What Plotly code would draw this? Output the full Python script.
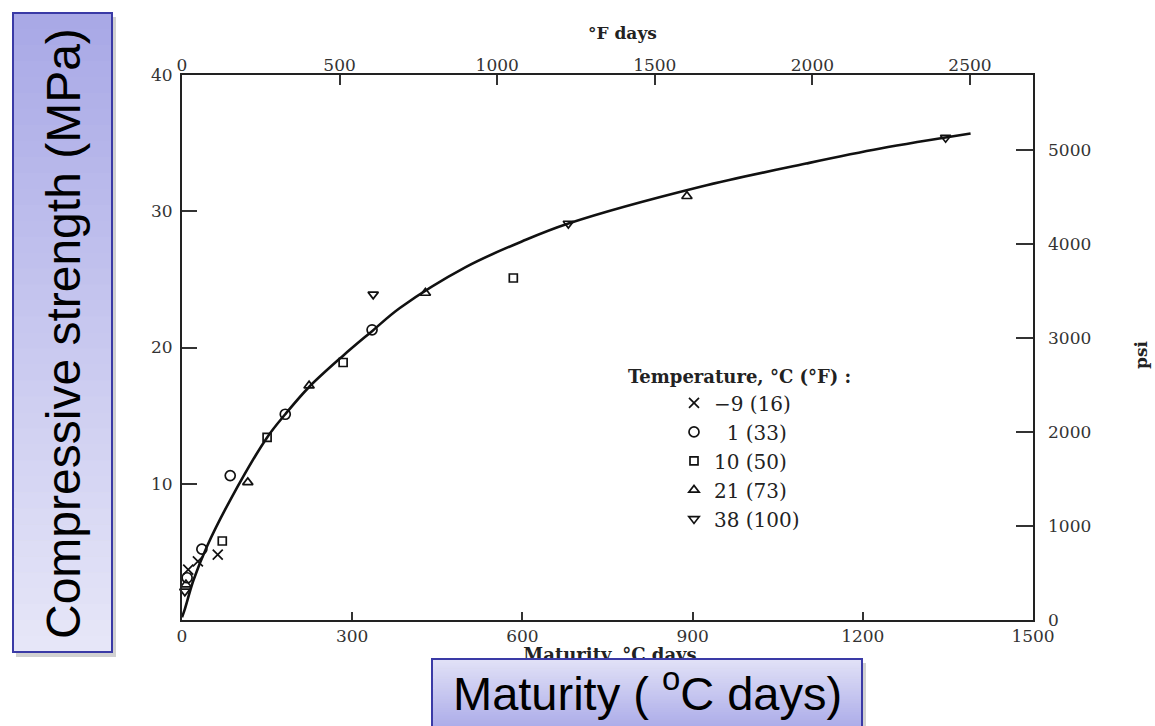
import plotly.graph_objects as go

# ---------------- data ----------------
# fitted strength-maturity curve (°C days, MPa)
curve_M = [0, 5, 20, 44, 85, 150, 182, 224, 284, 335, 384, 500, 600, 681, 914, 1100, 1231, 1390]
curve_S = [0.2, 0.8, 2.9, 5.4, 8.8, 13.4, 15.1, 17.1, 19.4, 21.2, 22.9, 25.9, 27.8, 29.1, 31.8, 33.5, 34.6, 35.7]

series_names = ["\u22129 (16)", "\u20071 (33)", "10 (50)", "21 (73)", "38 (100)"]
m_minus9 = [11, 28, 63]
s_minus9 = [3.7, 4.3, 4.8]
m_1 = [9, 35, 85, 182, 335]
s_1 = [3.1, 5.2, 10.6, 15.1, 21.3]
m_10 = [71, 150, 284, 584]
s_10 = [5.8, 13.4, 18.9, 25.1]
m_21 = [7, 116, 224, 429, 890]
s_21 = [2.6, 10.1, 17.2, 24.0, 31.1]
m_38 = [5, 337, 681, 1346]
s_38 = [2.1, 23.9, 29.1, 35.4]

x_ticks_C = [0, 300, 600, 900, 1200, 1500]
x_ticks_F = [0, 500, 1000, 1500, 2000, 2500]
y_ticks_MPa = [10, 20, 30, 40]
y_ticks_psi = [0, 1000, 2000, 3000, 4000, 5000]

X_RANGE = [0, 1500]
Y_RANGE = [0, 40]
F_PER_C = 1.8
PSI_PER_MPA = 145.038

# ---------------- layout helpers (pixel -> paper, paper = whole figure) ----------------
W, H = 1155, 726
L, R, T, B = 182, 1033, 75, 620


def px2x(px):
    return px / W


def py2y(py):
    return 1 - py / H


SERIF = "DejaVu Serif"
SANS = "Liberation Sans"
INK = "#222222"

fig = go.Figure()

# original x-axis title of the scanned figure (mostly covered by the blue box);
# drawn in a hidden helper subplot below the chart so the box shape covers it
fig.add_trace(go.Scatter(
    x=[610], y=[657], xaxis="x3", yaxis="y3",
    mode="text", text=["<b>Maturity, \u00b0C days</b>"],
    textfont=dict(family=SERIF, size=18, color=INK), cliponaxis=False,
    showlegend=False, hoverinfo="skip"))

fig.add_trace(go.Scatter(
    x=curve_M, y=curve_S, mode="lines",
    line=dict(color="#111111", width=2.6, shape="spline", smoothing=1.0),
    showlegend=False, hoverinfo="skip"))

marker_sets = [
    (m_minus9, s_minus9, "x-thin-open", 10),
    (m_1, s_1, "circle-open", 10),
    (m_10, s_10, "square-open", 8),
    (m_21, s_21, "triangle-up-open", 9),
    (m_38, s_38, "triangle-down-open", 9),
]
for name, (mx, my, sym, sz) in zip(series_names, marker_sets):
    fig.add_trace(go.Scatter(
        x=mx, y=my, mode="markers", name=name,
        marker=dict(symbol=sym, size=sz, color="#111111",
                    line=dict(color="#111111", width=1.7)),
        cliponaxis=False))

# invisible traces to activate the secondary axes
fig.add_trace(go.Scatter(x=[None], y=[None], xaxis="x2", yaxis="y", showlegend=False))
fig.add_trace(go.Scatter(x=[None], y=[None], xaxis="x", yaxis="y2", showlegend=False))

axis_font = dict(family=SERIF, size=17, color="#333333")
xdom = [px2x(L), px2x(R)]
ydom = [py2y(B), py2y(T)]

fig.update_layout(
    width=W, height=H,
    margin=dict(l=0, r=0, t=0, b=0, pad=0),
    paper_bgcolor="white", plot_bgcolor="white",
    xaxis=dict(domain=xdom, range=X_RANGE, tickvals=x_ticks_C, ticktext=[str(v) for v in x_ticks_C],
               ticks="inside", ticklen=8, tickwidth=1.5, tickcolor="#333",
               showline=True, linecolor="#222", linewidth=2, mirror=True, automargin=False,
               showgrid=False, zeroline=False, tickfont=axis_font, anchor="y"),
    xaxis2=dict(range=[X_RANGE[0] * F_PER_C, X_RANGE[1] * F_PER_C], overlaying="x", side="top",
                tickvals=x_ticks_F, ticks="inside", ticklen=10, tickwidth=1.5, tickcolor="#333",
                showline=False, showgrid=False, zeroline=False, tickfont=axis_font,
                automargin=False, anchor="y"),
    yaxis=dict(domain=ydom, range=Y_RANGE, tickvals=y_ticks_MPa, ticks="inside", ticklen=15,
               tickwidth=1.5, tickcolor="#333", showline=True, linecolor="#222", linewidth=2,
               mirror=True, automargin=False, anchor="x",
               showgrid=False, zeroline=False, tickfont=axis_font, ticklabelstandoff=4),
    yaxis2=dict(range=[Y_RANGE[0] * PSI_PER_MPA, Y_RANGE[1] * PSI_PER_MPA], overlaying="y", side="right",
                tickvals=y_ticks_psi, ticks="inside", ticklen=17, tickwidth=1.5, tickcolor="#333",
                showline=False, showgrid=False, zeroline=False, tickfont=axis_font,
                ticklabelstandoff=14, automargin=False, anchor="x"),
    xaxis3=dict(domain=[0, 1], range=[0, W], visible=False, anchor="y3", fixedrange=True),
    yaxis3=dict(domain=[0, py2y(B) - 0.001], range=[H, B + 1], visible=False, anchor="x3",
                fixedrange=True),
    legend=dict(x=px2x(626), y=py2y(360), xanchor="left", yanchor="top",
                title=dict(text="<b>Temperature, \u00b0C (\u00b0F) :</b>",
                           font=dict(family=SERIF, size=18, color=INK)),
                font=dict(family=SERIF, size=20, color=INK),
                bgcolor="rgba(0,0,0,0)", indentation=48, tracegroupgap=0),
    showlegend=True,
)

annotations = [
    dict(text="<b>\u00b0F days</b>", x=px2x(622), y=py2y(33), xref="paper", yref="paper",
         xanchor="center", yanchor="middle",
         showarrow=False, font=dict(family=SERIF, size=17, color=INK)),
    dict(text="<b>psi</b>", x=px2x(1141), y=py2y(355), xref="paper", yref="paper",
         xanchor="center", yanchor="middle",
         showarrow=False, textangle=-90, font=dict(family=SERIF, size=17, color=INK)),
]

# ---------------- blue boxes with gradient ----------------
shapes = []


def hexmix(c1, c2, t):
    a = [int(c1[i:i + 2], 16) for i in (1, 3, 5)]
    b = [int(c2[i:i + 2], 16) for i in (1, 3, 5)]
    return "#" + "".join(f"{round(a[k] + (b[k] - a[k]) * t):02x}" for k in range(3))


def gradient_box(x0, y0, x1, y1, ctop, cbot, n=40):
    # soft shadow
    shapes.append(dict(type="rect", xref="paper", yref="paper", layer="above",
                       x0=px2x(x0 + 3), x1=px2x(x1 + 4), y0=py2y(y1 + 5), y1=py2y(y0 + 4),
                       fillcolor="rgba(0,0,0,0.18)", line=dict(width=0)))
    for i in range(n):
        ya = y0 + (y1 - y0) * i / n
        yb = y0 + (y1 - y0) * (i + 1) / n
        shapes.append(dict(type="rect", xref="paper", yref="paper", layer="above",
                           x0=px2x(x0), x1=px2x(x1), y0=py2y(yb + 0.6), y1=py2y(ya),
                           fillcolor=hexmix(ctop, cbot, (i + 0.5) / n), line=dict(width=0)))
    shapes.append(dict(type="rect", xref="paper", yref="paper", layer="above",
                       x0=px2x(x0), x1=px2x(x1), y0=py2y(y1), y1=py2y(y0),
                       fillcolor="rgba(0,0,0,0)", line=dict(color="#3a3aa6", width=2)))


gradient_box(13, 13, 112, 652, "#a8a8e6", "#e7e7f8")
gradient_box(432, 659, 862, 732, "#e2e2f7", "#a8a8e8")

annotations += [
    dict(text="Compressive strength (MPa)", x=px2x(63), y=py2y(334), xref="paper", yref="paper",
         xanchor="center", yanchor="middle",
         showarrow=False, textangle=-90, font=dict(family=SANS, size=48, color="black")),
    dict(text="Maturity ( <sup>o</sup>C days)", x=px2x(647), y=py2y(690), xref="paper", yref="paper",
         xanchor="center", yanchor="middle",
         showarrow=False, font=dict(family=SANS, size=47, color="black")),
]

fig.update_layout(shapes=shapes, annotations=annotations)

fig.write_html("out.html", config={"displayModeBar": False},
               post_script="document.body.style.margin='0';")
